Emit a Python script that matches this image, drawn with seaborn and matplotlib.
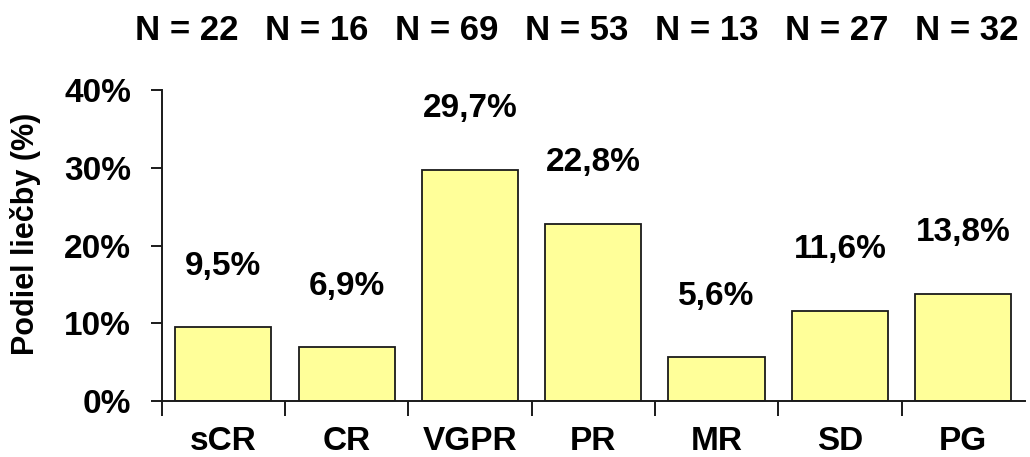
import numpy as np
import matplotlib
matplotlib.use("Agg")
import matplotlib.pyplot as plt
import seaborn as sns

# data
categories = ['sCR', 'CR', 'VGPR', 'PR', 'MR', 'SD', 'PG']
shares = [9.5, 6.9, 29.7, 22.8, 5.6, 11.6, 13.8]
share_labels = ['9,5%', '6,9%', '29,7%', '22,8%', '5,6%', '11,6%', '13,8%']
n_labels = ['N = 22', 'N = 16', 'N = 69', 'N = 53', 'N = 13', 'N = 27', 'N = 32']
yticks = [0, 10, 20, 30, 40]
ytick_labels = ['0%', '10%', '20%', '30%', '40%']

sns.set_style('white')
plt.rcParams['font.family'] = ['Liberation Sans', 'DejaVu Sans']
plt.rcParams['text.color'] = 'black'
plt.rcParams['axes.labelcolor'] = 'black'
plt.rcParams['xtick.color'] = 'black'
plt.rcParams['ytick.color'] = 'black'

fig, ax = plt.subplots(figsize=(10.3, 4.57), dpi=100)
fig.subplots_adjust(left=0.157, right=0.995, bottom=0.1225, top=0.803)

sns.barplot(x=categories, y=shares, color='#FFFF99', edgecolor='#1a1a1a',
            linewidth=1.3, width=0.78, saturation=1, ax=ax)

ax.set_xlim(-0.5, len(categories) - 0.5)
ax.set_ylim(0, 40)

# category boundaries get the tick marks, labels sit in the middle
ax.set_xticks(np.arange(-0.5, len(categories) - 0.5, 1))
ax.set_xticklabels([])
ax.set_xticks(np.arange(len(categories)), minor=True)
ax.set_xticklabels(categories, minor=True, fontsize=24, fontweight='bold')
ax.tick_params(axis='x', which='major', direction='out', length=11, width=1.4,
               color='#1a1a1a', bottom=True)
ax.tick_params(axis='x', which='minor', length=0, pad=18)

ax.set_yticks(yticks)
ax.set_yticklabels(ytick_labels, fontsize=24, fontweight='bold')
ax.tick_params(axis='y', direction='out', length=8, width=1.4, color='#1a1a1a',
               left=True, pad=14)

for side in ['top', 'right']:
    ax.spines[side].set_visible(False)
for side in ['left', 'bottom']:
    ax.spines[side].set_color('#1a1a1a')
    ax.spines[side].set_linewidth(1.4)

ax.set_ylabel('Podiel liečby (%)', fontsize=22, fontweight='bold')
ax.yaxis.set_label_coords(-0.14, 0.537)

for i, (v, lab) in enumerate(zip(shares, share_labels)):
    ax.annotate(lab, xy=(i, v), xytext=(0, 44), textcoords='offset points',
                ha='center', va='center', fontsize=24, fontweight='bold')

# sample sizes as a separate row across the top
for i, lab in enumerate(n_labels):
    fig.text((187 + 130 * i) / 1030, 1 - 30 / 457, lab, ha='center', va='center',
             fontsize=25, fontweight='bold')

fig.savefig('out.png', dpi=100)
